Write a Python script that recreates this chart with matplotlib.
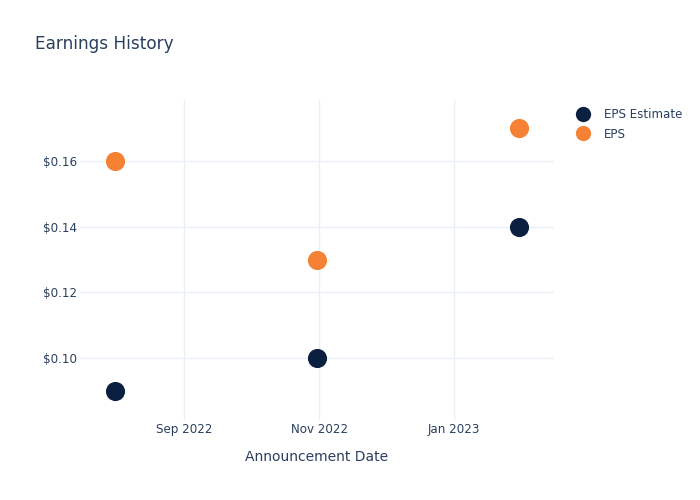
import matplotlib
matplotlib.use("Agg")
import matplotlib.pyplot as plt
from matplotlib.lines import Line2D
import datetime as dt

dates = ["2022-08-01", "2022-10-31", "2023-01-30"]
eps_estimate = [0.09, 0.10, 0.14]
eps_actual = [0.16, 0.13, 0.17]
yticks = [0.10, 0.12, 0.14, 0.16]
xtick_dates = ["2022-09-01", "2022-11-01", "2023-01-01"]
xtick_labels = ["Sep 2022", "Nov 2022", "Jan 2023"]

TXT = "#2a3f5f"
GRID = "#ebf0f8"
NAVY = "#0b1f41"
ORANGE = "#f58134"

x = [dt.datetime.strptime(d, "%Y-%m-%d") for d in dates]
xt = [dt.datetime.strptime(d, "%Y-%m-%d") for d in xtick_dates]

fig = plt.figure(figsize=(7, 5), dpi=100)
ax = fig.add_axes([80/700, 80/500, 474/700, 320/500])

ax.scatter(x, eps_estimate, s=190, color=NAVY, zorder=3, linewidths=0)
ax.scatter(x, eps_actual, s=190, color=ORANGE, zorder=3, linewidths=0)

ax.set_xlim(dt.datetime(2022, 7, 16), dt.datetime(2023, 2, 15))
ax.set_ylim(0.0811, 0.1786)
ax.set_yticks(yticks)
ax.set_yticklabels([f"${v:.2f}" for v in yticks])
ax.set_xticks(xt)
ax.set_xticklabels(xtick_labels)

for s in ax.spines.values():
    s.set_visible(False)
ax.grid(True, color=GRID, linewidth=1)
ax.set_axisbelow(True)
ax.tick_params(length=0, colors=TXT, labelsize=8.6)
ax.tick_params(axis="y", pad=2)
ax.tick_params(axis="x", pad=2)
ax.set_xlabel("Announcement Date", color=TXT, fontsize=10, labelpad=10.5)

fig.text(35/700, 1 - 44/500, "Earnings History", color=TXT, fontsize=12.2, va="center", ha="left")

handles = [Line2D([], [], marker="o", linestyle="", markersize=11, color=NAVY, markeredgewidth=0),
           Line2D([], [], marker="o", linestyle="", markersize=11, color=ORANGE, markeredgewidth=0)]
leg = fig.legend(handles, ["EPS Estimate", "EPS"], loc="upper left",
                 bbox_to_anchor=(574/700, 1 - 108/500), frameon=False,
                 fontsize=8.6, handletextpad=1.0, labelspacing=0.55, handlelength=1.5,
                 borderaxespad=0, borderpad=0)
for t in leg.get_texts():
    t.set_color(TXT)

fig.savefig("out.png", dpi=100)
